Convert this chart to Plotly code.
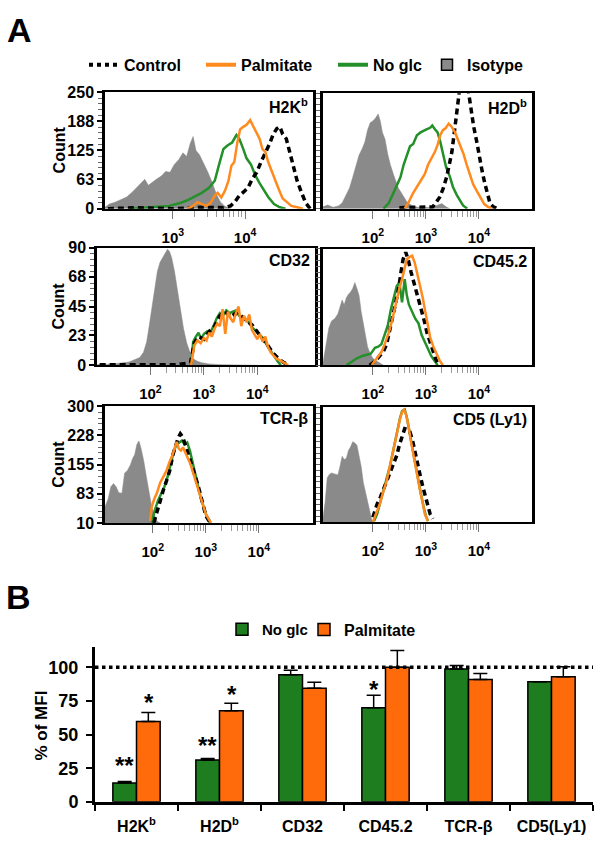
import numpy as np
import plotly.graph_objects as go

W, H = 600, 852
FONT = "Liberation Sans, Arial, sans-serif"
GREEN = "#23902A"
ORANGE = "#FF8A1E"
GREY = "#8a8a8a"
BAR_GREEN = "#1E7D1E"
BAR_ORANGE = "#FF6A0A"

# ---------------- panel A: histograms (x = log10 fluorescence, y = count)
# H2Kb
h2kb_iso_e = [2.06, 2.12, 2.2, 2.28, 2.36, 2.44, 2.5, 2.56, 2.61, 2.66, 2.72, 2.78, 2.84, 2.9, 2.96, 3.02,
              3.08, 3.14, 3.19, 3.24, 3.28, 3.32, 3.37, 3.42, 3.48, 3.54, 3.6, 3.66, 3.72, 3.8]
h2kb_iso_n = [3, 10, 14, 20, 25, 36, 46, 55, 63, 50, 58, 64, 70, 80, 78, 95,
              105, 120, 112, 140, 155, 125, 115, 100, 80, 58, 32, 14, 5, 0]
h2kb_glc_e = [2.4, 2.6, 2.8, 2.95, 3.1, 3.2, 3.3, 3.4, 3.5, 3.58, 3.64, 3.7, 3.76, 3.82, 3.88, 3.92,
              3.97, 4.02, 4.08, 4.14, 4.2, 4.26, 4.32, 4.4, 4.48, 4.56]
h2kb_glc_n = [0, 2, 4, 6, 12, 18, 26, 34, 45, 60, 95, 128, 136, 142, 158, 150,
              130, 108, 95, 72, 55, 40, 25, 10, 3, 0]
h2kb_pal_e = [3.2, 3.28, 3.34, 3.4, 3.46, 3.52, 3.58, 3.62, 3.67, 3.72, 3.77, 3.81, 3.85, 3.89, 3.93, 3.97,
              4.02, 4.07, 4.11, 4.15, 4.2, 4.24, 4.28, 4.32, 4.37, 4.42, 4.47, 4.52, 4.58, 4.64, 4.72, 4.8]
h2kb_pal_n = [0, 6, 14, 10, 6, 12, 28, 34, 24, 38, 60, 92, 100, 140, 170, 175,
              180, 190, 178, 168, 150, 128, 122, 100, 82, 60, 40, 22, 14, 6, 3, 0]
h2kb_ctl_e = [2.1, 2.5, 3.0, 3.4, 3.7, 3.8, 3.86, 3.92, 3.98, 4.04, 4.1, 4.16, 4.22, 4.28, 4.34, 4.39,
              4.44, 4.48, 4.52, 4.57, 4.62, 4.67, 4.72, 4.78, 4.84, 4.9]
h2kb_ctl_n = [0, 2, 0, 3, 2, 6, 15, 28, 36, 45, 64, 78, 100, 118, 140, 160,
              172, 176, 160, 150, 118, 92, 60, 35, 12, 0]

# H2Db
h2db_iso_e = [1.06, 1.15, 1.25, 1.35, 1.42, 1.5, 1.56, 1.62, 1.68, 1.74, 1.8, 1.85, 1.9, 1.95, 2.0, 2.05,
              2.1, 2.14, 2.18, 2.23, 2.28, 2.33, 2.4, 2.48, 2.56, 2.64, 2.72, 2.8, 2.9, 3.0, 3.1, 3.2,
              3.3, 3.38, 3.45]
h2db_iso_n = [4, 8, 3, 6, 12, 30, 45, 68, 90, 116, 130, 145, 170, 186, 190, 196,
              205, 190, 165, 150, 118, 95, 70, 45, 30, 15, 8, 4, 2, 3, 2, 6,
              11, 4, 0]
h2db_glc_e = [2.2, 2.3, 2.38, 2.45, 2.52, 2.58, 2.64, 2.7, 2.76, 2.83, 2.9, 2.96, 3.02, 3.08, 3.12, 3.17,
              3.22, 3.27, 3.32, 3.38, 3.45, 3.51, 3.58, 3.64, 3.7, 3.78]
h2db_glc_n = [0, 12, 32, 50, 68, 95, 114, 135, 140, 159, 165, 169, 172, 175, 180, 172,
              165, 145, 118, 90, 70, 47, 30, 18, 7, 0]
h2db_pal_e = [2.6, 2.68, 2.75, 2.82, 2.9, 2.98, 3.04, 3.1, 3.17, 3.22, 3.27, 3.32, 3.37, 3.43, 3.48, 3.55,
              3.6, 3.65, 3.71, 3.77, 3.83, 3.89, 3.95, 4.02, 4.1, 4.17, 4.25]
h2db_pal_n = [0, 15, 32, 45, 62, 75, 95, 108, 123, 138, 159, 170, 174, 184, 178, 165,
              150, 138, 118, 95, 75, 53, 40, 25, 10, 4, 0]
h2db_ctl_e = [2.5, 2.8, 3.05, 3.13, 3.2, 3.26, 3.33, 3.39, 3.44, 3.49, 3.53, 3.57, 3.61, 3.65, 3.7, 3.75,
              3.8, 3.85, 3.9, 3.96, 4.01, 4.06, 4.11, 4.16, 4.21, 4.27, 4.35]
h2db_ctl_n = [2, 3, 2, 4, 15, 25, 45, 68, 95, 123, 160, 210, 250, 272, 285, 275,
              255, 210, 178, 144, 110, 81, 55, 32, 11, 4, 0]

# CD32
cd32_iso_e = [1.0, 1.3, 1.6, 1.7, 1.8, 1.87, 1.93, 1.98, 2.03, 2.08, 2.13, 2.18, 2.23, 2.28, 2.32, 2.36,
              2.4, 2.45, 2.5, 2.56, 2.62, 2.68, 2.74, 2.8, 2.88, 2.96, 3.1, 3.3, 3.6, 4.0]
cd32_iso_n = [0.5, 1, 2.5, 4, 6, 10, 18, 31, 45, 60, 72, 79, 83, 86, 89, 87,
              82, 72, 58, 42, 28, 17, 10, 5, 3, 2, 1, 0.5, 0.3, 0]
cd32_glc_e = [2.76, 2.8, 2.85, 2.9, 2.95, 3.0, 3.06, 3.12, 3.18, 3.24, 3.3, 3.36, 3.42, 3.48, 3.54, 3.6,
              3.66, 3.72, 3.78, 3.84, 3.9, 3.96, 4.02, 4.08, 4.14, 4.2, 4.26, 4.32, 4.38, 4.44]
cd32_glc_n = [0, 18, 22, 25, 20, 24, 26, 25, 30, 36, 40, 38, 42, 40, 41, 42,
              38, 37, 35, 33, 29, 27, 24, 22, 18, 14, 10, 6, 3, 0]
cd32_pal_e = [2.76, 2.82, 2.88, 2.94, 3.0, 3.05, 3.1, 3.15, 3.2, 3.25, 3.3, 3.35, 3.4, 3.45, 3.5, 3.55,
              3.6, 3.65, 3.7, 3.75, 3.8, 3.85, 3.9, 3.95, 4.0, 4.05, 4.1, 4.15, 4.2, 4.25, 4.3, 4.36,
              4.42, 4.5, 4.58]
cd32_pal_n = [0, 15, 19, 17, 21, 19, 25, 22, 28, 32, 30, 43, 24, 41, 36, 33,
              40, 45, 30, 38, 33, 39, 27, 24, 20, 24, 18, 22, 14, 10, 8, 5,
              4, 2, 0]
cd32_ctl_e = [1.05, 1.5, 2.0, 2.5, 2.75, 2.82, 2.9, 3.0, 3.1, 3.2, 3.3, 3.4, 3.5, 3.6, 3.7, 3.8,
              3.9, 4.0, 4.1, 4.2, 4.3, 4.4, 4.5, 4.6]
cd32_ctl_n = [0.5, 0.5, 0.5, 0.5, 2, 17, 22, 20, 26, 30, 38, 41, 37, 40, 38, 34,
              31, 26, 20, 15, 9, 5, 2, 0]

# CD45.2
cd45_iso_e = [1.06, 1.09, 1.13, 1.17, 1.22, 1.28, 1.34, 1.38, 1.42, 1.46, 1.5, 1.54, 1.58, 1.62, 1.66, 1.7,
              1.74, 1.78, 1.82, 1.86, 1.9, 1.95, 2.0, 2.06, 2.12, 2.2]
cd45_iso_n = [2, 10, 24, 32, 38, 40, 44, 50, 56, 52, 58, 61, 63, 66, 71, 66,
              60, 46, 36, 28, 16, 10, 6, 4, 2, 0]
cd45_glc_e = [1.5, 1.6, 1.7, 1.8, 1.89, 1.96, 2.04, 2.1, 2.16, 2.22, 2.28, 2.34, 2.4, 2.45, 2.5, 2.55,
              2.6, 2.64, 2.68, 2.74, 2.8, 2.86, 2.92, 2.98, 3.04, 3.1, 3.16, 3.22]
cd45_glc_n = [0, 3, 6, 8, 9, 10, 15, 16, 18, 26, 34, 48, 60, 68, 71, 54,
              74, 60, 52, 46, 40, 36, 26, 20, 14, 8, 4, 0]
cd45_pal_e = [1.98, 2.09, 2.17, 2.23, 2.3, 2.36, 2.41, 2.45, 2.5, 2.55, 2.6, 2.64, 2.69, 2.74, 2.79, 2.84,
              2.89, 2.94, 2.98, 3.03, 3.08, 3.14, 3.2, 3.26, 3.32]
cd45_pal_n = [0, 7, 12, 19, 28, 38, 48, 57, 66, 74, 84, 91, 93, 94, 88, 78,
              69, 58, 48, 36, 24, 16, 10, 4, 0]
cd45_ctl_e = [1.94, 2.05, 2.13, 2.2, 2.26, 2.32, 2.38, 2.43, 2.48, 2.53, 2.57, 2.62, 2.67, 2.72, 2.77, 2.82,
              2.87, 2.92, 2.97, 3.02, 3.07, 3.13, 3.18, 3.24]
cd45_ctl_n = [0, 4, 8, 12, 18, 30, 44, 55, 64, 80, 91, 97, 90, 80, 72, 62,
              55, 46, 38, 28, 20, 13, 6, 0]

# TCR-beta
tcr_iso_e = [1.1, 1.16, 1.21, 1.26, 1.31, 1.36, 1.42, 1.47, 1.52, 1.58, 1.62, 1.66, 1.7, 1.74, 1.78, 1.83,
             1.88, 1.93, 1.98, 2.03, 2.08, 2.14]
tcr_iso_n = [50, 70, 100, 108, 100, 85, 84, 134, 140, 155, 170, 180, 205, 214, 195, 165,
             125, 85, 50, 30, 14, 10]
tcr_glc_e = [1.98, 2.04, 2.1, 2.16, 2.22, 2.28, 2.34, 2.4, 2.45, 2.5, 2.55, 2.6, 2.65, 2.7, 2.75, 2.8,
             2.85, 2.9, 2.96, 3.02, 3.08]
tcr_glc_n = [10, 42, 66, 85, 100, 125, 160, 190, 205, 210, 215, 205, 210, 190, 160, 135,
             100, 75, 49, 25, 10]
tcr_pal_e = [1.95, 1.98, 2.03, 2.08, 2.14, 2.2, 2.26, 2.31, 2.36, 2.41, 2.45, 2.49, 2.53, 2.57, 2.61, 2.65,
             2.7, 2.76, 2.82, 2.88, 2.94, 3.0, 3.06, 3.1]
tcr_pal_n = [15, 50, 70, 85, 110, 125, 140, 160, 175, 195, 212, 195, 190, 198, 186, 178,
             160, 135, 110, 80, 55, 32, 18, 10]
tcr_ctl_e = [2.02, 2.08, 2.14, 2.2, 2.26, 2.32, 2.38, 2.43, 2.48, 2.52, 2.56, 2.6, 2.65, 2.7, 2.76, 2.82,
             2.88, 2.94, 3.0, 3.06, 3.1]
tcr_ctl_n = [10, 40, 70, 92, 115, 140, 180, 205, 222, 232, 225, 210, 190, 168, 145, 118,
             90, 58, 28, 15, 10]

# CD5 (Ly1)
cd5_iso_e = [1.06, 1.1, 1.14, 1.18, 1.22, 1.26, 1.3, 1.34, 1.38, 1.42, 1.46, 1.5, 1.54, 1.58, 1.62, 1.66,
             1.7, 1.74, 1.78, 1.82, 1.86, 1.9, 1.94, 1.98, 2.02]
cd5_iso_n = [20, 60, 122, 130, 134, 132, 130, 129, 150, 176, 168, 171, 191, 200, 213, 210,
             204, 175, 150, 110, 85, 60, 32, 15, 10]
cd5_glc_e = [2.02, 2.08, 2.13, 2.2, 2.26, 2.32, 2.38, 2.43, 2.47, 2.51, 2.55, 2.6, 2.64, 2.68, 2.72, 2.76,
             2.8, 2.85, 2.9, 2.95, 3.0, 3.04]
cd5_glc_n = [12, 30, 55, 90, 118, 150, 188, 220, 250, 272, 290, 295, 275, 245, 212, 180,
             150, 118, 85, 52, 25, 12]
cd5_pal_e = [2.0, 2.06, 2.13, 2.2, 2.26, 2.32, 2.38, 2.43, 2.47, 2.51, 2.55, 2.59, 2.63, 2.67, 2.71, 2.75,
             2.79, 2.84, 2.89, 2.94, 2.98, 3.04]
cd5_pal_n = [10, 30, 55, 88, 114, 150, 188, 222, 246, 270, 288, 294, 280, 255, 220, 190,
             154, 122, 89, 58, 30, 12]
cd5_ctl_e = [2.0, 2.04, 2.08, 2.14, 2.19, 2.25, 2.32, 2.38, 2.45, 2.5, 2.55, 2.6, 2.65, 2.7, 2.75, 2.79,
             2.84, 2.89, 2.94, 2.98, 3.03, 3.08, 3.13]
cd5_ctl_n = [22, 40, 55, 72, 89, 108, 129, 150, 178, 205, 228, 246, 244, 238, 215, 188,
             160, 129, 100, 79, 50, 30, 18]

panel_names = ["H2K<sup>b</sup>", "H2D<sup>b</sup>", "CD32", "CD45.2", "TCR-β", "CD5 (Ly1)"]
count_ticks = [[0, 63, 125, 188, 250], None, [0, 23, 45, 68, 90], None, [10, 83, 155, 228, 300], None]
count_range = [[0, 250], [0, 250], [0, 90], [0, 100], [10, 300], [10, 300]]
decade_range = [[2.06, 4.94], [1.06, 5.0], [1.0, 5.08], [1.06, 5.0], [1.1, 5.02], [1.06, 5.0]]
decade_labels = [[3, 4], [2, 3, 4], [2, 3, 4], [2, 3, 4], [2, 3, 4], [2, 3, 4]]

# ---------------- panel B: % of MFI
markers = ["H2K<sup>b</sup>", "H2D<sup>b</sup>", "CD32", "CD45.2", "TCR-β", "CD5(Ly1)"]
noglc_mfi = [14.0, 31.1, 94.6, 69.9, 98.8, 89.4]
noglc_err = [1.2, 1.2, 3.2, 9.3, 2.5, 0.0]
palm_mfi = [59.7, 67.7, 84.4, 100.0, 91.0, 93.1]
palm_err = [6.8, 5.6, 4.6, 12.5, 4.4, 7.4]
star_text = ["**", "*", "**", "*", "*"]
star_cat = ["H2K<sup>b</sup>", "H2K<sup>b</sup>", "H2D<sup>b</sup>", "H2D<sup>b</sup>", "CD45.2"]
star_side = [-1, 1, -1, 1, -1]
star_y = [32, 79, 47, 85, 89]

# pixel boxes (left, right, top, bottom) of the six histogram panels
boxes = [(105, 313, 86, 205), (323, 532, 87, 205), (97, 315, 245, 365),
         (323, 532, 246, 365), (105, 313, 407, 526), (323, 532, 408, 525)]
minor_start = [3, 2, 2, 2, 2, 2]

fig = go.Figure()
layout = {}
annotations = []


def dom_x(a, b):
    return [a / W, b / W]


def dom_y(top, bottom):
    return [1 - bottom / H, 1 - top / H]


curves = [
    (h2kb_iso_e, h2kb_iso_n, h2kb_glc_e, h2kb_glc_n, h2kb_ctl_e, h2kb_ctl_n, h2kb_pal_e, h2kb_pal_n),
    (h2db_iso_e, h2db_iso_n, h2db_glc_e, h2db_glc_n, h2db_ctl_e, h2db_ctl_n, h2db_pal_e, h2db_pal_n),
    (cd32_iso_e, cd32_iso_n, cd32_glc_e, cd32_glc_n, cd32_ctl_e, cd32_ctl_n, cd32_pal_e, cd32_pal_n),
    (cd45_iso_e, cd45_iso_n, cd45_glc_e, cd45_glc_n, cd45_ctl_e, cd45_ctl_n, cd45_pal_e, cd45_pal_n),
    (tcr_iso_e, tcr_iso_n, tcr_glc_e, tcr_glc_n, tcr_ctl_e, tcr_ctl_n, tcr_pal_e, tcr_pal_n),
    (cd5_iso_e, cd5_iso_n, cd5_glc_e, cd5_glc_n, cd5_ctl_e, cd5_ctl_n, cd5_pal_e, cd5_pal_n),
]

for i, c in enumerate(curves):
    sfx = "" if i == 0 else str(i + 1)
    xa, ya = "x" + sfx, "y" + sfx
    ie, inn, ge, gn, ce, cn, pe, pn = c
    fig.add_trace(go.Scatter(x=ie, y=inn, xaxis=xa, yaxis=ya, mode="lines", fill="tozeroy",
                             fillcolor=GREY, line=dict(color=GREY, width=0.5), showlegend=False))
    fig.add_trace(go.Scatter(x=ge, y=gn, xaxis=xa, yaxis=ya, mode="lines",
                             line=dict(color=GREEN, width=2.5), showlegend=False))
    fig.add_trace(go.Scatter(x=ce, y=cn, xaxis=xa, yaxis=ya, mode="lines",
                             line=dict(color="black", width=3.5, dash="6px,4px"), showlegend=False))
    fig.add_trace(go.Scatter(x=pe, y=pn, xaxis=xa, yaxis=ya, mode="lines",
                             line=dict(color=ORANGE, width=2.5), showlegend=False))

    l, r, t, b = boxes[i]
    minor_x = [d + np.log10(k) for d in range(minor_start[i], 4) for k in range(2, 10)]
    yr = count_range[i]
    layout["xaxis" + sfx] = dict(
        domain=dom_x(l, r), range=decade_range[i], anchor=ya, showgrid=False, zeroline=False,
        showline=True, mirror=True, linecolor="black", linewidth=2,
        tickmode="array", tickvals=decade_labels[i],
        ticktext=["10<sup>%d</sup>" % d for d in decade_labels[i]],
        ticks="outside", ticklen=8, tickwidth=1, tickcolor="#777",
        ticklabelstandoff=6,
        tickfont=dict(family=FONT, size=15, color="black", weight="bold"),
        minor=dict(tickmode="array", tickvals=minor_x, ticks="outside", ticklen=6,
                   tickwidth=1, tickcolor="#999"))
    yt = count_ticks[i]
    layout["yaxis" + sfx] = dict(
        domain=dom_y(t, b), range=yr, anchor=xa, showgrid=False, zeroline=False,
        showline=True, mirror=True, linecolor="black", linewidth=2.5,
        tickmode="array", tickvals=yt if yt else [], ticks="outside", ticklen=5, tickwidth=1.5,
        tickcolor="black", ticklabelstandoff=0, showticklabels=bool(yt),
        tickfont=dict(family=FONT, size=16, color="black", weight="bold"),
        minor=dict(tickmode="linear", tick0=yr[0], dtick=(yr[1] - yr[0]) / 20, ticks="outside",
                   ticklen=4, tickwidth=1, tickcolor="#666"))
    annotations.append(dict(xref=xa + " domain", yref=ya + " domain", x=1, y=1, xanchor="right",
                            yanchor="top", xshift=-3, yshift=-2, showarrow=False,
                            text="<b>%s</b>" % panel_names[i],
                            font=dict(family=FONT, size=16, color="black")))
    if yt:
        annotations.append(dict(xref="paper", yref="paper", x=59 / W, y=1 - (t + b) / 2 / H,
                                xanchor="center", yanchor="middle",
                                textangle=-90, showarrow=False, text="<b>Count</b>",
                                font=dict(family=FONT, size=16, color="black")))

# legend-only entries for panel A
leg_items = [("Control", "legend", dict(mode="lines", line=dict(color="black", width=4, dash="dot"))),
             ("Palmitate", "legend2", dict(mode="lines", line=dict(color=ORANGE, width=4))),
             ("No glc", "legend3", dict(mode="lines", line=dict(color=GREEN, width=4))),
             ("Isotype", "legend4", dict(mode="markers", marker=dict(symbol="square", size=11, color=GREY,
                                                                     line=dict(color="black", width=1.5))))]
for name, lg, kw in leg_items:
    fig.add_trace(go.Scatter(x=[None], y=[None], name=name, legend=lg, showlegend=True, **kw))

leg_pos = {"legend": (84, 58, 16), "legend2": (201, 58, 16), "legend3": (333, 58, 16),
           "legend4": (427, 58, 16), "legend5": (222, 635, 15), "legend6": (304, 635, 16)}
for lg, (px, py, fs) in leg_pos.items():
    layout[lg] = dict(x=px / W, y=1 - py / H, xanchor="left", yanchor="middle", orientation="h",
                      bgcolor="rgba(0,0,0,0)",
                      font=dict(family=FONT, size=fs, color="black", weight="bold"))

# ---------------- panel B bars
fig.add_trace(go.Bar(x=markers, y=noglc_mfi, name="No glc", xaxis="x7", yaxis="y7", legend="legend5",
                     marker=dict(color=BAR_GREEN, line=dict(color="black", width=1.5)),
                     error_y=dict(type="data", array=noglc_err, arrayminus=[0] * 6, symmetric=False,
                                  color="black", thickness=1.5, width=7)))
fig.add_trace(go.Bar(x=markers, y=palm_mfi, name="Palmitate", xaxis="x7", yaxis="y7", legend="legend6",
                     marker=dict(color=BAR_ORANGE, line=dict(color="black", width=1.5)),
                     error_y=dict(type="data", array=palm_err, arrayminus=[0] * 6, symmetric=False,
                                  color="black", thickness=1.5, width=7)))

layout["xaxis7"] = dict(domain=dom_x(95, 593), anchor="y7", type="category", showgrid=False,
                        showline=True, linecolor="black", linewidth=3, ticks="outside", tickson="boundaries",
                        ticklen=6, tickwidth=2, tickcolor="black", ticklabelstandoff=8,
                        tickfont=dict(family=FONT, size=16, color="black", weight="bold"))
layout["yaxis7"] = dict(domain=dom_y(653, 811), anchor="x7", range=[0, 115], showgrid=False, zeroline=False,
                        showline=True, linecolor="black", linewidth=3, tickvals=[0, 25, 50, 75, 100],
                        ticks="outside", ticklen=6, tickwidth=2, tickcolor="black", ticklabelstandoff=4,
                        tickfont=dict(family=FONT, size=18, color="black", weight="bold"))

for txt, cat, side, yv in zip(star_text, star_cat, star_side, star_y):
    annotations.append(dict(xref="x7", yref="y7", x=cat, y=yv, xshift=side * 12, yshift=-7,
                            showarrow=False, text="<b>%s</b>" % txt,
                            font=dict(family=FONT, size=24, color="black")))

annotations.append(dict(xref="paper", yref="paper", x=42 / W, y=1 - 733 / H, xanchor="center",
                        yanchor="middle", textangle=-90, showarrow=False, text="<b>% of MFI</b>",
                        font=dict(family=FONT, size=17, color="black")))
annotations.append(dict(xref="paper", yref="paper", x=5 / W, y=1 - 22 / H, xanchor="left", yanchor="middle",
                        showarrow=False, text="<b>A</b>", font=dict(family=FONT, size=34, color="black")))
annotations.append(dict(xref="paper", yref="paper", x=4 / W, y=1 - 602 / H, xanchor="left", yanchor="middle",
                        showarrow=False, text="<b>B</b>", font=dict(family=FONT, size=34, color="black")))

fig.update_layout(
    width=W, height=H, margin=dict(l=0, r=0, t=0, b=0),
    paper_bgcolor="white", plot_bgcolor="white",
    barmode="group", bargap=0.43, bargroupgap=0,
    annotations=annotations,
    shapes=[dict(type="line", xref="x7 domain", yref="y7", x0=0, x1=1, y0=100, y1=100,
                 layer="above", line=dict(color="black", width=3.5, dash="dot"))],
    **layout)

# page body has a default 8px margin; drop it so the figure sits at the window origin
fig.write_html("out.html", config={"displayModeBar": False},
               post_script="document.body.style.margin='0';")
